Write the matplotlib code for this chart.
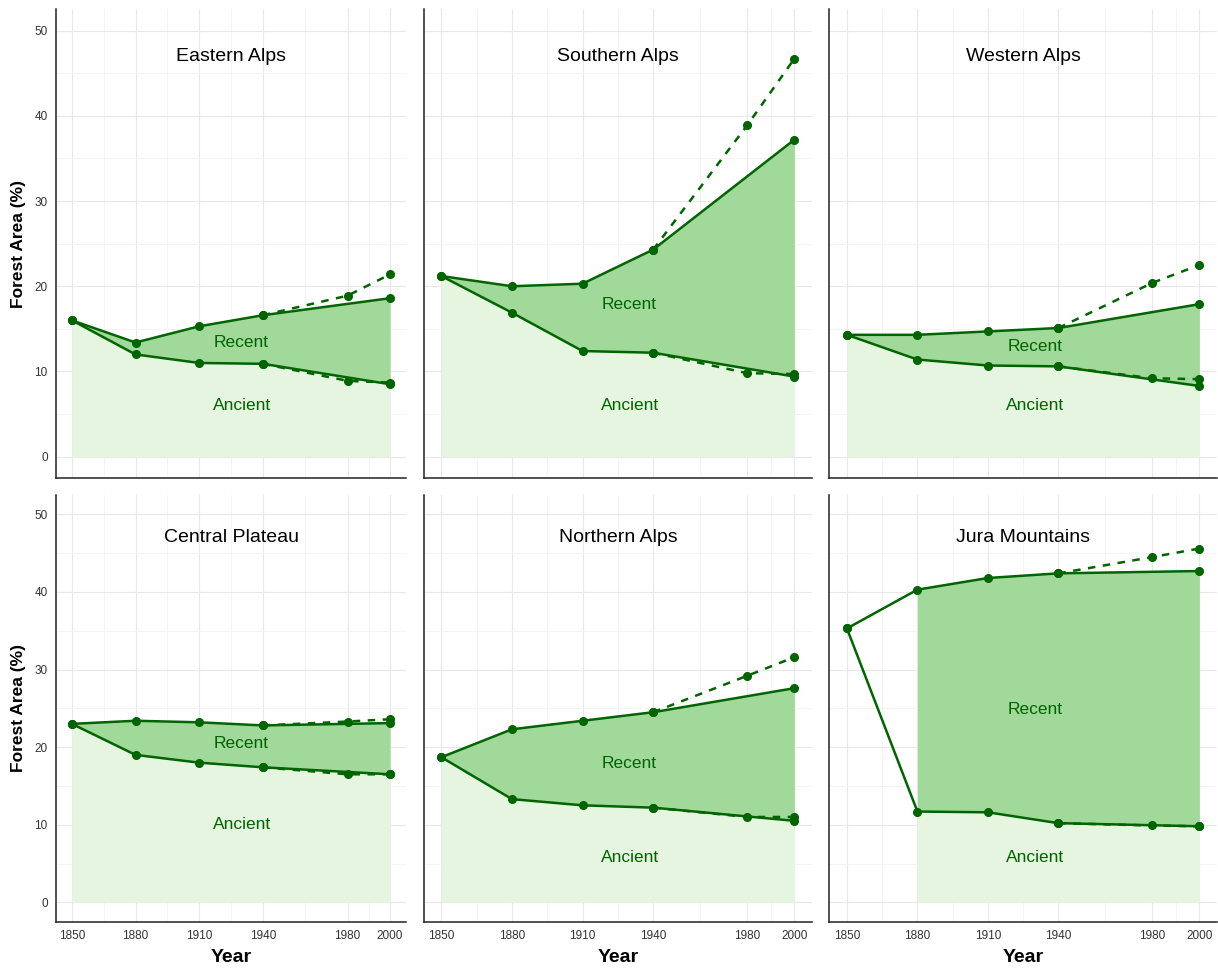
import matplotlib
matplotlib.use("Agg")
import matplotlib.pyplot as plt
from matplotlib.ticker import FixedLocator

# forest cover per region (% of area)
regions = ["Eastern Alps", "Southern Alps", "Western Alps",
           "Central Plateau", "Northern Alps", "Jura Mountains"]
years = [1850, 1880, 1910, 1940, 2000]
years_alt = [1940, 1980, 2000]

total = [
    [16.0, 13.4, 15.3, 16.6, 18.6],
    [21.2, 20.0, 20.3, 24.3, 37.2],
    [14.3, 14.3, 14.7, 15.1, 17.9],
    [23.0, 23.4, 23.2, 22.8, 23.1],
    [18.7, 22.3, 23.4, 24.5, 27.6],
    [35.3, 40.3, 41.8, 42.4, 42.7],
]
ancient = [
    [16.0, 12.0, 11.0, 10.9, 8.5],
    [21.2, 16.9, 12.4, 12.2, 9.4],
    [14.3, 11.4, 10.7, 10.6, 8.3],
    [23.0, 19.0, 18.0, 17.4, 16.5],
    [18.7, 13.3, 12.5, 12.2, 10.5],
    [35.3, 11.7, 11.6, 10.2, 9.8],
]
# alternative estimates 1940-2000 (dashed)
total_alt = [
    [16.6, 18.9, 21.4],
    [24.3, 38.9, 46.7],
    [15.1, 20.4, 22.5],
    [22.8, 23.3, 23.6],
    [24.5, 29.2, 31.6],
    [42.4, 44.5, 45.6],
]
ancient_alt = [
    [10.9, 8.9, 8.7],
    [12.2, 9.8, 9.7],
    [10.6, 9.2, 9.1],
    [17.4, 16.5, 16.5],
    [12.2, 11.0, 11.0],
    [10.2, 9.9, 9.8],
]
fill_start = [1850, 1850, 1850, 1850, 1850, 1880]
recent_label_y = [13.4, 17.9, 12.9, 20.5, 17.9, 24.9]
ancient_label_y = [6.0, 6.0, 6.0, 10.0, 5.8, 5.8]

x_breaks = [1850, 1880, 1910, 1940, 1980, 2000]
x_minor = [1865, 1895, 1925, 1960, 1990]
y_breaks = [0, 10, 20, 30, 40, 50]
y_minor = [5, 15, 25, 35, 45]

line_col = "#006400"
recent_col = "#a1d99b"
ancient_col = "#e5f5e0"

plt.rcParams["font.family"] = ["Liberation Sans", "DejaVu Sans"]

W, H = 1218, 968
fig = plt.figure(figsize=(W / 100, H / 100), dpi=100)

col_px = [(56, 406), (423.7, 812), (829.3, 1217)]
row_px = [(9.3, 478), (495, 921.7)]

for i, name in enumerate(regions):
    r, c = divmod(i, 3)
    l, rr = col_px[c]
    t, b = row_px[r]
    ax = fig.add_axes([l / W, 1 - b / H, (rr - l) / W, (b - t) / H])
    ax.set_xlim(1842.5, 2007.5)
    ax.set_ylim(-2.5, 52.5)
    ax.set_axisbelow(True)

    ax.xaxis.set_major_locator(FixedLocator(x_breaks))
    ax.xaxis.set_minor_locator(FixedLocator(x_minor))
    ax.yaxis.set_major_locator(FixedLocator(y_breaks))
    ax.yaxis.set_minor_locator(FixedLocator(y_minor))
    ax.grid(which="major", color="#e8e8e8", lw=0.8)
    ax.grid(which="minor", color="#f3f3f3", lw=0.6)
    ax.tick_params(which="both", length=0, labelsize=8.5, labelcolor="#333333")
    ax.tick_params(axis="x", pad=6)
    ax.tick_params(axis="y", pad=6)
    if r == 0:
        ax.set_xticklabels([])
    if c != 0:
        ax.set_yticklabels([])

    for s in ["top", "right"]:
        ax.spines[s].set_visible(False)
    for s in ["left", "bottom"]:
        ax.spines[s].set_color("#222222")
        ax.spines[s].set_linewidth(1.1)

    # stacked areas: ancient below, recent between ancient and total
    fx = [x for x in years if x >= fill_start[i]]
    fa = [a for x, a in zip(years, ancient[i]) if x >= fill_start[i]]
    ft = [v for x, v in zip(years, total[i]) if x >= fill_start[i]]
    ax.fill_between(fx, 0, fa, color=ancient_col, lw=0, zorder=1)
    ax.fill_between(fx, fa, ft, color=recent_col, lw=0, zorder=1)

    for ys in (total_alt[i], ancient_alt[i]):
        ax.plot(years_alt, ys, color=line_col, lw=1.8, ls=(0, (3, 3)),
                marker="o", ms=5.5, zorder=3)
    for ys in (total[i], ancient[i]):
        ax.plot(years, ys, color=line_col, lw=1.8, marker="o", ms=5.5, zorder=4)

    ax.text(1925, 47, name, ha="center", va="center", fontsize=14, color="black")
    ax.text(1930, recent_label_y[i], "Recent", ha="center", va="center",
            fontsize=12.5, color=line_col)
    ax.text(1930, ancient_label_y[i], "Ancient", ha="center", va="center",
            fontsize=12.5, color=line_col)

    if c == 0:
        ax.text((18.3 - l) / (rr - l), 0.5, "Forest Area (%)", rotation=90,
                ha="center", va="center", fontsize=12.5, fontweight="bold",
                transform=ax.transAxes)
    if r == 1:
        ax.text(0.5, (b - 957) / (b - t), "Year", ha="center", va="center",
                fontsize=14, fontweight="bold", transform=ax.transAxes)

fig.savefig("out.png", dpi=100)
